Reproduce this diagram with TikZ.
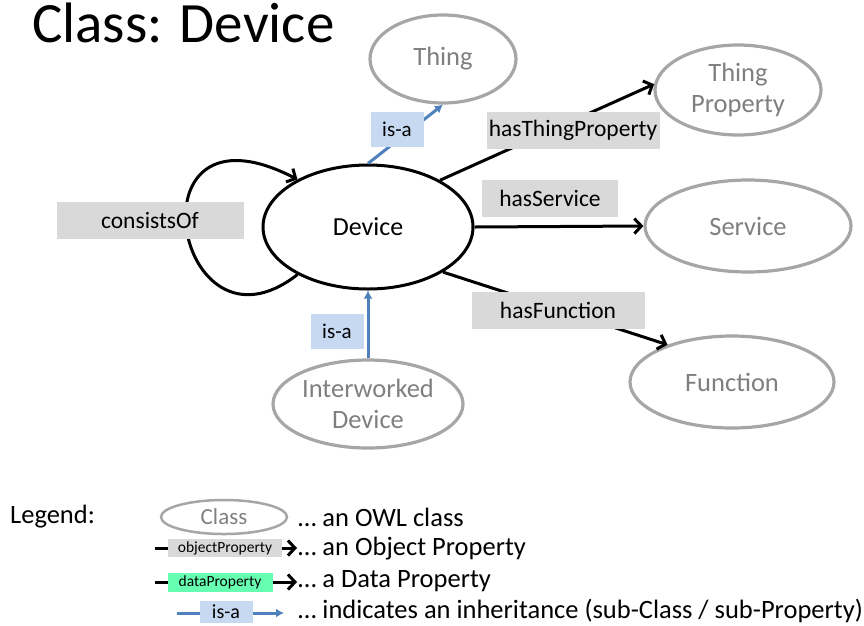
\documentclass[tikz,border=0pt]{standalone}
\usepackage{fontspec}
\setmainfont{Carlito}
\usetikzlibrary{shapes.geometric,arrows.meta}

\definecolor{classgray}{HTML}{A6A6A6}
\definecolor{classtext}{HTML}{7F7F7F}
\definecolor{propgray}{HTML}{D9D9D9}
\definecolor{isablue}{HTML}{C6D9F1}
\definecolor{isaline}{HTML}{4F81BD}
\definecolor{datagreen}{HTML}{66FFB2}

\tikzset{
  cls/.style={ellipse,draw=classgray,line width=3.2pt,text=classtext,inner sep=0pt,
    align=center,font=\fontsize{26.5}{31}\selectfont},
  mainclass/.style={ellipse,draw=black,line width=3pt,inner sep=0pt,
    font=\fontsize{26}{31}\selectfont},
  prop/.style={fill=propgray,inner sep=0pt,minimum height=37pt,font=\fontsize{23.5}{28}\selectfont},
  isa/.style={fill=isablue,inner sep=0pt,minimum width=53pt,minimum height=35pt,font=\fontsize{21}{25}\selectfont},
  objarrow/.style={line width=3pt,-{Straight Barb[length=7pt,width=15pt]}},
  isaarrow/.style={line width=3pt,draw=isaline,-{Latex[length=8pt,width=9pt]}},
  legtext/.style={anchor=west,inner sep=0pt,font=\fontsize{26.5}{30}\selectfont},
}

\begin{document}
\begin{tikzpicture}[x=1pt,y=-1pt]
    \useasboundingbox (0,0) rectangle (864,625);
    %% Title
    \node[anchor=base west,inner sep=0pt,font=\fontsize{57}{60}\selectfont] (title) at (32,42) {Class: Device};
    %% Classes
    \node[mainclass,minimum width=210pt,minimum height=124pt] (dev) at (368,227) {Device};
    \node[cls,minimum width=146pt,minimum height=88pt] (thing) at (443,59) {Thing};
    \node[cls,minimum width=166pt,minimum height=90pt] (tprop) at (738,90) {Thing\\Property};
    \node[cls,minimum width=206pt,minimum height=92pt] (serv) at (748,226) {Service};
    \node[cls,minimum width=204pt,minimum height=92pt] (func) at (732,382) {Function};
    \node[cls,minimum width=190pt,minimum height=88pt] (iwd) at (368,404) {Interworked\\Device};
    %% Properties
    \draw[objarrow] (dev.33) -- (tprop.176);
    \draw[objarrow] (dev.east) -- (serv.west);
    \draw[objarrow] (dev.-31) -- (func.150);
    \draw[objarrow] (dev.214) .. controls (175,370) and (125,90) .. (dev.146);
    \node[prop,minimum width=173pt] (hastp) at (573,130) {hasThingProperty};
    \node[prop,minimum width=136pt] (hasserv) at (550,198) {hasService};
    \node[prop,minimum width=173pt] (hasfunc) at (558,310) {hasFunction};
    \node[prop,minimum width=187pt] (consof) at (150,220) {consistsOf};
    %% Inheritance
    \draw[isaarrow] (dev.north) -- (thing.south);
    \draw[isaarrow] (iwd.north) -- (dev.south);
    \node[isa] (isa1) at (397,129) {is-a};
    \node[isa] (isa2) at (337,331) {is-a};
    %% Legend
    \node[legtext] (leg) at (10,517) {Legend:};
    \node[cls,minimum width=126pt,minimum height=34pt,line width=2.5pt,font=\fontsize{23}{28}\selectfont] (legcls) at (224,517) {Class};
    \node[legtext] (legt1) at (298,517) {… an OWL class};
    \coordinate (op1) at (155,548);
    \coordinate (op2) at (297,548);
    \draw[objarrow] (op1) -- (op2);
    \node[fill=propgray,inner sep=0pt,minimum width=114pt,minimum height=18pt,font=\fontsize{15.5}{18}\selectfont] (legop) at (225,548) {objectProperty};
    \node[legtext] (legt2) at (298,549) {… an Object Property};
    \coordinate (dp1) at (155,582);
    \coordinate (dp2) at (297,582);
    \draw[objarrow] (dp1) -- (dp2);
    \node[fill=datagreen,inner sep=0pt,minimum width=105pt,minimum height=19pt,font=\fontsize{15.5}{18}\selectfont] (legdp) at (220,582) {dataProperty};
    \node[legtext] (legt3) at (298,581) {… a Data Property};
    \coordinate (ia1) at (177,613);
    \coordinate (ia2) at (284,613);
    \draw[isaarrow] (ia1) -- (ia2);
    \node[fill=isablue,inner sep=0pt,minimum width=53pt,minimum height=22pt,font=\fontsize{20}{22}\selectfont] (legisa) at (226,612) {is-a};
    \node[legtext] (legt4) at (298,611) {… indicates an inheritance (sub-Class / sub-Property)};
\end{tikzpicture}
\end{document}
